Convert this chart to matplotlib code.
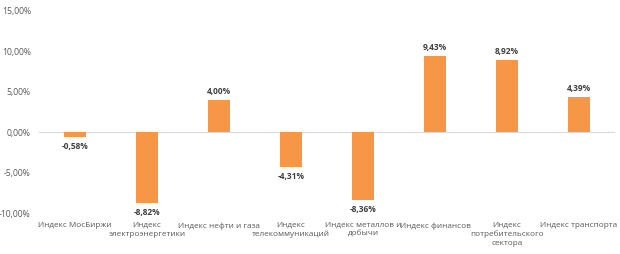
import matplotlib
matplotlib.use("Agg")
import matplotlib.pyplot as plt

categories = ["Индекс МосБиржи", "Индекс\nэлектроэнергетики", "Индекс нефти и газа",
              "Индекс\nтелекоммуникаций", "Индекс металлов и\nдобычи", "Индекс финансов",
              "Индекс\nпотребительского\nсектора", "Индекс транспорта"]
values = [-0.58, -8.82, 4.00, -4.31, -8.36, 9.43, 8.92, 4.39]
yticks = [-10, -5, 0, 5, 10, 15]

plt.rcParams['font.family'] = ['Open Sans', 'DejaVu Sans']
fig = plt.figure(figsize=(6.2, 2.54), dpi=100)
ax = fig.add_axes([0.063, 0.1614, 0.929, 0.7953])
x = list(range(len(categories)))
ax.bar(x, values, width=0.31, color="#F79646", zorder=2)
ax.axhline(0, color="#D9D9D9", lw=0.8, zorder=1)
ax.set_xlim(-0.5, len(categories) - 0.5)
ax.set_ylim(-10, 15)
ax.set_yticks(yticks)
ax.set_yticklabels([f"{t:.2f}%".replace(".", ",") for t in yticks], fontsize=6.2, color="#595959")
ax.tick_params(axis='y', length=0, pad=6)
ax.set_xticks([])
for s in ax.spines.values():
    s.set_visible(False)
for i, (c, v) in enumerate(zip(categories, values)):
    ax.annotate(c, xy=(i, -10), xytext=(0, -6.5), textcoords="offset points",
                ha="center", va="top", fontsize=5.9, color="#595959", linespacing=1.3,
                annotation_clip=False)
    if v >= 0:
        ax.annotate(f"{v:.2f}%".replace(".", ","), xy=(i, v), xytext=(0, 3),
                    textcoords="offset points", ha="center", va="bottom",
                    fontsize=6.0, fontweight="bold", color="#404040")
    else:
        ax.annotate(f"{v:.2f}%".replace(".", ","), xy=(i, v), xytext=(0, -3.5),
                    textcoords="offset points", ha="center", va="top",
                    fontsize=6.0, fontweight="bold", color="#404040", annotation_clip=False)
fig.savefig("out.png", dpi=100)
